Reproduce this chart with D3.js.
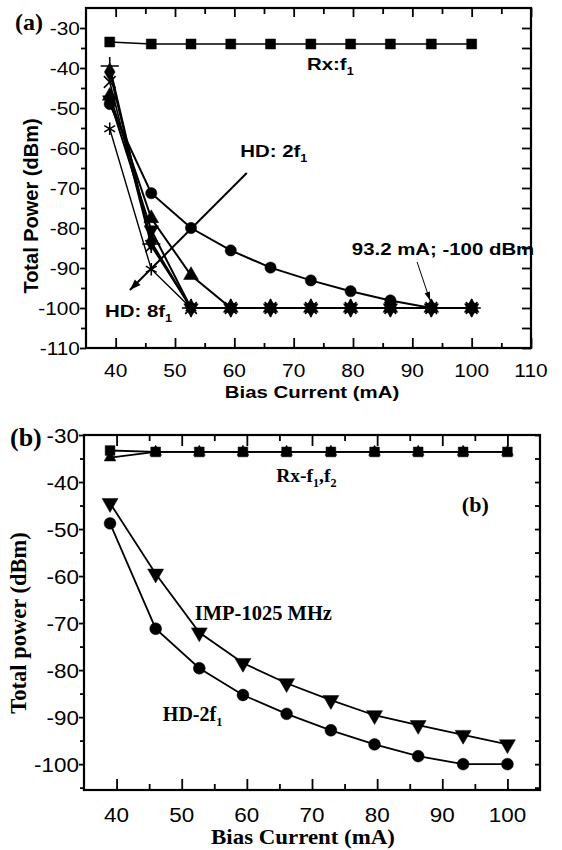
<!DOCTYPE html>
<html><head><meta charset="utf-8">
<script src="https://cdn.jsdelivr.net/npm/d3@7"></script>
<style>body{margin:0;background:#fff}svg{display:block}</style>
</head><body>
<svg id="c" width="562" height="850"></svg>
<script>
// ---------- data ----------
const bias = [39, 46, 52.7, 59.4, 66.1, 72.9, 79.6, 86.3, 93.2, 100];

// panel (a)
const aRx  = [-33.5, -34, -34, -34, -34, -34, -34, -34, -34, -34];
const aHD2 = [-49, -71.3, -80, -85.6, -89.9, -93.1, -95.8, -98.1, -100, -100];
const aHD3 = [-47, -77.6, -91.8, -100, -100, -100, -100, -100, -100, -100];
const aHD4 = [-48, -80.5, -100, -100, -100, -100, -100, -100, -100, -100];
const aHD5 = [-41, -83.5, -100, -100, -100, -100, -100, -100, -100, -100];
const aHD6 = [-39.5, -84, -100, -100, -100, -100, -100, -100, -100, -100];
const aHD7 = [-43.5, -84.5, -100, -100, -100, -100, -100, -100, -100, -100];
const aHD8 = [-55.2, -90.3, -100, -100, -100, -100, -100, -100, -100, -100];
const aXTicks = [40, 50, 60, 70, 80, 90, 100, 110];
const aYTicks = [-30, -40, -50, -60, -70, -80, -90, -100, -110];

// panel (b)
const bRx1 = [-33.3, -33.6, -33.6, -33.6, -33.6, -33.6, -33.6, -33.6, -33.6, -33.6];
const bRx2 = [-34.8, -33.6, -33.6, -33.6, -33.6, -33.6, -33.6, -33.6, -33.6, -33.6];
const bIMP = [-44.5, -59.5, -72, -78.5, -82.8, -86.4, -89.6, -91.7, -93.8, -95.8];
const bHD2 = [-48.8, -71.2, -79.6, -85.3, -89.3, -92.8, -95.8, -98.3, -100, -100];
const bXTicks = [40, 50, 60, 70, 80, 90, 100];
const bYTicks = [-30, -40, -50, -60, -70, -80, -90, -100];

// ---------- helpers ----------
const svg = d3.select("#c");
const SANS = "'Liberation Sans', Arial, sans-serif";
const SERIF = "'Liberation Serif', 'Times New Roman', serif";

function label(g, x, y, parts, o) {
  o = Object.assign({size: 17, weight: "normal", family: SANS, anchor: "start", sx: 1, rot: 0}, o || {});
  const t = g.append("text")
    .attr("transform", `translate(${x},${y}) rotate(${o.rot}) scale(${o.sx},1)`)
    .attr("font-family", o.family).attr("font-size", o.size)
    .attr("font-weight", o.weight).attr("text-anchor", o.anchor).attr("fill", "#000");
  if (typeof parts === "string") parts = [[parts]];
  parts.forEach(p => {
    const ts = t.append("tspan").text(p[0]);
    if (p[1] === "sub") ts.attr("font-size", o.size * 0.62).attr("dy", o.size * 0.28);
    if (p[1] === "up") ts.attr("dy", -o.size * 0.28);
  });
  return t;
}

function sym(type, size) { return d3.symbol().type(type).size(size)(); }

function series(g, x, y, xs, ys, type, size, opts) {
  opts = Object.assign({lw: 2, stroke: false, rot: 0}, opts || {});
  const pts = xs.map((d, i) => [d, ys[i]]);
  g.append("path").datum(pts)
    .attr("d", d3.line().x(d => x(d[0])).y(d => y(d[1])))
    .attr("fill", "none").attr("stroke", "#000").attr("stroke-width", opts.lw);
  g.selectAll(null).data(pts).enter().append("path")
    .attr("transform", d => `translate(${x(d[0])},${y(d[1])}) rotate(${opts.rot})`)
    .attr("d", sym(type, size))
    .attr("fill", opts.stroke ? "none" : "#000")
    .attr("stroke", "#000").attr("stroke-width", opts.stroke ? 1.6 : 0.5);
}

function tickAxis(g, axis, transform) {
  const a = g.append("g").attr("transform", transform).call(axis);
  a.select(".domain").remove();
  a.selectAll("text").remove();
  a.selectAll("line").attr("stroke", "#000").attr("stroke-width", 1.8);
}

function arrow(g, x1, y1, x2, y2, lw, head, hw) {
  g.append("line").attr("x1", x1).attr("y1", y1).attr("x2", x2).attr("y2", y2)
    .attr("stroke", "#000").attr("stroke-width", lw);
  const ang = Math.atan2(y2 - y1, x2 - x1);
  const bx = x2 - head * Math.cos(ang), by = y2 - head * Math.sin(ang);
  const px = -Math.sin(ang) * hw, py = Math.cos(ang) * hw;
  g.append("path").attr("d", `M${x2},${y2}L${bx + px},${by + py}L${bx - px},${by - py}Z`).attr("fill", "#000");
}

// ---------- panel (a) ----------
{
  const g = svg.append("g");
  const L = 86, R = 531, T = 8, B = 348;
  const x = d3.scaleLinear().domain([35, 110]).range([L, R]);
  const y = d3.scaleLinear().domain([-110, -25]).range([B, T]);
  const minorX = [45, 55, 65, 75, 85, 95, 105];
  const minorY = [-35, -45, -55, -65, -75, -85, -95, -105];

  tickAxis(g, d3.axisBottom(x).tickValues(aXTicks).tickSizeInner(-10).tickSizeOuter(0), `translate(0,${B})`);
  tickAxis(g, d3.axisBottom(x).tickValues(minorX).tickSizeInner(-5).tickSizeOuter(0), `translate(0,${B})`);
  tickAxis(g, d3.axisTop(x).tickValues(aXTicks).tickSizeInner(-9).tickSizeOuter(0), `translate(0,${T})`);
  tickAxis(g, d3.axisTop(x).tickValues(minorX).tickSizeInner(-6).tickSizeOuter(0), `translate(0,${T})`);
  tickAxis(g, d3.axisLeft(y).tickValues(aYTicks).tickSizeInner(6).tickSizeOuter(0), `translate(${L},0)`);
  tickAxis(g, d3.axisLeft(y).tickValues(minorY).tickSizeInner(5).tickSizeOuter(0), `translate(${L},0)`);
  tickAxis(g, d3.axisRight(y).tickValues(aYTicks.concat(minorY)).tickSizeInner(-9).tickSizeOuter(0), `translate(${R},0)`);

  aXTicks.forEach(v => label(g, x(v), 377, String(v), {size: 19, anchor: "middle", sx: 1.1}));
  aYTicks.forEach(v => label(g, 80, y(v) + 6.8, String(v), {size: 19, anchor: "end", sx: 1.1}));

  label(g, 312, 398, "Bias Current (mA)", {size: 17, weight: "bold", anchor: "middle", sx: 1.2});
  label(g, 38, 206, "Total Power (dBm)", {size: 20, weight: "bold", anchor: "middle", rot: -90});
  label(g, 15, 30, "(a)", {size: 24, weight: "bold", family: SERIF});

  // data
  series(g, x, y, bias, aHD8, d3.symbolAsterisk, 110, {lw: 1.4, stroke: true});
  series(g, x, y, bias, aHD7, d3.symbolTimes, 90, {lw: 1.6, stroke: true});
  series(g, x, y, bias, aHD6, d3.symbolPlus, 110, {lw: 1.6, stroke: true});
  series(g, x, y, bias, aHD5, d3.symbolDiamond, 100, {lw: 2});
  series(g, x, y, bias, aHD4, d3.symbolTriangle, 90, {lw: 2, rot: 180});
  series(g, x, y, bias, aHD3, d3.symbolTriangle, 95, {lw: 2});
  series(g, x, y, bias, aHD2, d3.symbolCircle, 100, {lw: 2});
  series(g, x, y, bias, aRx, d3.symbolSquare, 100, {lw: 1.6});

  // annotations
  label(g, x(72.25), y(-40.5), [["Rx:f"], ["1", "sub"]], {size: 17, weight: "bold", sx: 1.2});
  label(g, x(61.0), y(-62.25), [["HD: 2f"], ["1", "sub"]], {size: 17, weight: "bold", sx: 1.2});
  label(g, x(38.2), y(-102.25), [["HD: 8f"], ["1", "sub"]], {size: 17, weight: "bold", sx: 1.2});
  label(g, x(79.8), y(-86.75), "93.2 mA; -100 dBm", {size: 17, weight: "bold", sx: 1.2});
  arrow(g, x(62.1), y(-66.25), x(42.4), y(-95.5), 2, 11, 4);
  arrow(g, x(90.8), y(-88.5), x(93.0), y(-98.2), 1, 9, 2.8);

  g.append("rect").attr("x", L).attr("y", T).attr("width", R - L).attr("height", B - T)
    .attr("fill", "none").attr("stroke", "#000").attr("stroke-width", 2.2);
}

// ---------- panel (b) ----------
{
  const g = svg.append("g");
  const L = 84, R = 540, T = 435, B = 790;
  const x = d3.scaleLinear().domain([35, 105]).range([L, R]);
  const y = d3.scaleLinear().domain([-105.5, -30]).range([B, T]);
  const minorX = [45, 55, 65, 75, 85, 95];
  const minorY = [-35, -45, -55, -65, -75, -85, -95, -105];

  tickAxis(g, d3.axisBottom(x).tickValues(bXTicks).tickSizeInner(-11).tickSizeOuter(0), `translate(0,${B})`);
  tickAxis(g, d3.axisBottom(x).tickValues(minorX).tickSizeInner(-6).tickSizeOuter(0), `translate(0,${B})`);
  tickAxis(g, d3.axisTop(x).tickValues(bXTicks).tickSizeInner(-11).tickSizeOuter(0), `translate(0,${T})`);
  tickAxis(g, d3.axisTop(x).tickValues(minorX).tickSizeInner(-6).tickSizeOuter(0), `translate(0,${T})`);
  tickAxis(g, d3.axisLeft(y).tickValues(bYTicks).tickSizeInner(5).tickSizeOuter(0), `translate(${L},0)`);
  tickAxis(g, d3.axisLeft(y).tickValues(minorY).tickSizeInner(4).tickSizeOuter(0), `translate(${L},0)`);
  tickAxis(g, d3.axisRight(y).tickValues(bYTicks.concat(minorY)).tickSizeInner(-5).tickSizeOuter(0), `translate(${R},0)`);

  bXTicks.forEach(v => label(g, x(v), 821.5, String(v), {size: 21, anchor: "middle", sx: 1.07}));
  bYTicks.forEach(v => label(g, 79, y(v) + 7.5, String(v), {size: 21, anchor: "end", sx: 1.07}));

  label(g, 303, 844, "Bias Current  (mA)", {size: 22, weight: "bold", family: SERIF, anchor: "middle", sx: 1.04});
  label(g, 26, 623, "Total power (dBm)", {size: 22.5, weight: "bold", family: SERIF, anchor: "middle", rot: -90});
  label(g, 10, 446, "(b)", {size: 26, weight: "bold", family: SERIF});

  series(g, x, y, bias, bHD2, d3.symbolCircle, 110, {lw: 1.8});
  series(g, x, y, bias, bIMP, d3.symbolTriangle, 110, {lw: 1.8, rot: 180});
  series(g, x, y, bias, bRx2, d3.symbolTriangle, 60, {lw: 1.8});
  series(g, x, y, bias, bRx1, d3.symbolSquare, 95, {lw: 1.8});

  label(g, x(64.5), y(-40.0), [["Rx-f"], ["1", "sub"], [",", "up"], ["f"], ["2", "sub"]], {size: 19.5, weight: "bold", family: SERIF});
  label(g, x(93.0), y(-46.4), "(b)", {size: 22, weight: "bold", family: SERIF});
  label(g, x(52.0), y(-69.3), "IMP-1025 MHz", {size: 20.5, weight: "bold", family: SERIF});
  label(g, x(47.1), y(-90.8), [["HD-2f"], ["1", "sub"]], {size: 20, weight: "bold", family: SERIF});

  g.append("rect").attr("x", L).attr("y", T).attr("width", R - L).attr("height", B - T)
    .attr("fill", "none").attr("stroke", "#000").attr("stroke-width", 2.2);
}
</script>
</body></html>
